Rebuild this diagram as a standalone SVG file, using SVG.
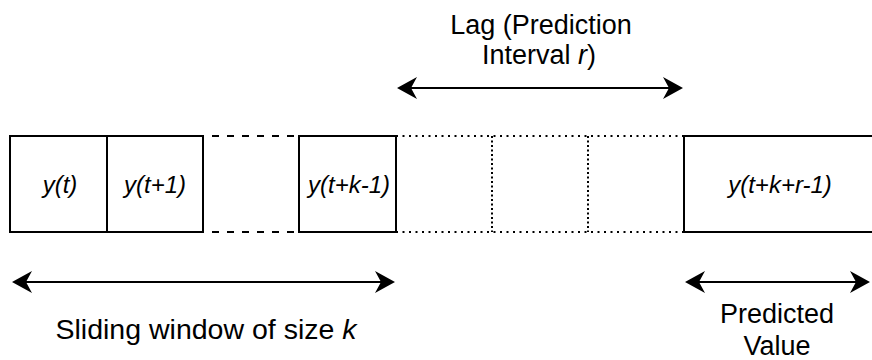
<svg xmlns="http://www.w3.org/2000/svg" width="872" height="360" viewBox="0 0 872 360">
  <style>
    .cell { fill: #ffffff; stroke: #000000; stroke-width: 2; }
    .dash { stroke: #000000; stroke-width: 2; fill: none; stroke-dasharray: 7 8; }
    .dot { stroke: #000000; stroke-width: 2; fill: none; stroke-dasharray: 2 4.5; }
    .dotv { stroke: #000000; stroke-width: 2; fill: none; stroke-dasharray: 2 2.5; }
    .lbl { font-family: "Liberation Sans", Arial, Helvetica, sans-serif; font-size: 24px; font-style: italic; fill: #000000; text-anchor: middle; }
    .cap { font-family: "Liberation Sans", Arial, Helvetica, sans-serif; font-size: 27px; fill: #000000; text-anchor: middle; }
    .cap.wide { font-size: 28.5px; }
    .em { font-style: italic; }
    .span { stroke: #000000; stroke-width: 2; fill: none; marker-start: url(#head); marker-end: url(#head); }
  </style>
  <defs>
    <marker id="head" viewBox="0 0 20 22" refX="15" refY="11" markerWidth="20" markerHeight="22" markerUnits="userSpaceOnUse" orient="auto-start-reverse">
      <path d="M0,0 L20,11 L0,22 L6,11 Z" fill="#000000"/>
    </marker>
  </defs>

  <rect width="872" height="360" fill="#ffffff"/>

  <!-- empty placeholder cells between the window and the target -->
  <g id="gap-window">
    <line class="dash" x1="107" y1="136" x2="299" y2="136"/>
    <line class="dash" x1="107" y1="232" x2="299" y2="232"/>
  </g>
  <g id="lag-cells">
    <line class="dot" x1="396" y1="136" x2="684" y2="136"/>
    <line class="dot" x1="396" y1="232" x2="684" y2="232"/>
    <line class="dotv" x1="492" y1="136" x2="492" y2="232"/>
    <line class="dotv" x1="588" y1="136" x2="588" y2="232"/>
  </g>

  <g id="cell-yt">
    <rect class="cell" x="10" y="136" width="97" height="96"/>
    <text class="lbl" x="60" y="193">y(t)</text>
  </g>
  <g id="cell-yt1">
    <rect class="cell" x="107" y="136" width="96" height="96"/>
    <text class="lbl" x="155" y="193">y(t+1)</text>
  </g>
  <g id="cell-ytk1">
    <rect class="cell" x="299" y="136" width="97" height="96"/>
    <text class="lbl" x="349" y="193">y(t+k-1)</text>
  </g>
  <g id="cell-target">
    <rect class="cell" x="684" y="136" width="194" height="96"/>
    <text class="lbl" x="780" y="193">y(t+k+r-1)</text>
  </g>

  <!-- span arrows -->
  <g id="connectors">
    <line class="span" x1="402" y1="88" x2="678" y2="88"/>
    <line class="span" x1="17" y1="282" x2="390" y2="282"/>
    <line class="span" x1="690" y1="282" x2="865" y2="282"/>
  </g>

  <g id="label-lag">
    <text class="cap" x="541" y="34">Lag (Prediction</text>
    <text class="cap" x="539" y="64">Interval <tspan class="em">r</tspan>)</text>
  </g>
  <g id="label-window">
    <text class="cap wide" x="206" y="339">Sliding window of size <tspan class="em">k</tspan></text>
  </g>
  <g id="label-predicted">
    <text class="cap" x="777" y="323">Predicted</text>
    <text class="cap" x="777" y="355">Value</text>
  </g>
</svg>
